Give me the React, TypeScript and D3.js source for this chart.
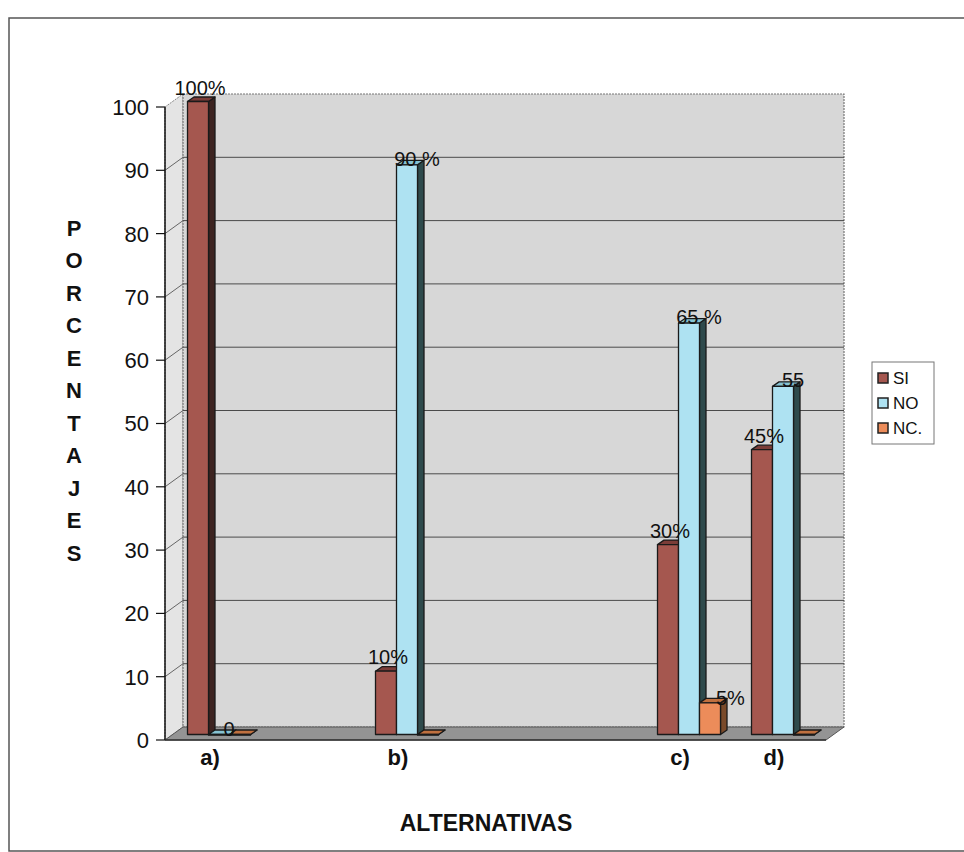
import React from "react";
import * as d3 from "d3";

const categories = ["a)", "b)", "c)", "d)"];
const slotOrder = ["a)", "gap1", "b)", "gap2", "gap3", "c)", "d)"];
const seriesNames = ["SI", "NO", "NC."];
const siValues = [100, 10, 30, 45];
const noValues = [0, 90, 65, 55];
const ncValues = [0, 0, 5, 0];
const siLabels = ["100%", "10%", "30%", "45%"];
const noLabels = ["0", "90 %", "65 %", "55"];
const ncLabels = ["", "", "5%", ""];
const yTicks = [0, 10, 20, 30, 40, 50, 60, 70, 80, 90, 100];
const yTitle = "PORCENTAJES";
const xTitle = "ALTERNATIVAS";

const W = 964;
const H = 852;
const FONT = "Arial, 'Liberation Sans', Helvetica, sans-serif";

const seriesStyle = [
  { front: "#a5574f", side: "#3d2421", top: "#7b3d38", anchor: "middle", ldx: 2, ldy: -7 },
  { front: "#aee2f2", side: "#2e4a4c", top: "#86c3d3", anchor: "middle", ldx: 10, ldy: 1 },
  { front: "#ec8c5a", side: "#7a4a2a", top: "#c0703f", anchor: "start", ldx: 6, ldy: 2 },
];

export default function App() {
  const y = d3.scaleLinear().domain([0, 100]).range([740, 107]);
  const x = d3.scaleBand().domain(slotOrder).range([163, 821]).paddingInner(0).paddingOuter(0);
  const depth = { dx: 18, dy: -13 };
  const frontLeft = 165;
  const frontRight = 826;
  const bw = 21;
  const barShift = { dx: 9, dy: -5.5 };
  const barDepth = { dx: 6.5, dy: -4.5 };
  const series = [siValues, noValues, ncValues];
  const labels = [siLabels, noLabels, ncLabels];

  const y0 = y(0);
  const y100 = y(100);
  const backWall = [
    [frontLeft + depth.dx, y100 + depth.dy],
    [frontRight + depth.dx, y100 + depth.dy],
    [frontRight + depth.dx, y0 + depth.dy],
    [frontLeft + depth.dx, y0 + depth.dy],
  ];
  const leftWall = [
    [frontLeft, y0],
    [frontLeft, y100],
    [frontLeft + depth.dx, y100 + depth.dy],
    [frontLeft + depth.dx, y0 + depth.dy],
  ];
  const floor = [
    [frontLeft, y0],
    [frontLeft + depth.dx, y0 + depth.dy],
    [frontRight + depth.dx, y0 + depth.dy],
    [frontRight, y0],
  ];
  const pts = (p: number[][]) => p.map((q) => q.join(",")).join(" ");

  const bars: any[] = [];
  const barLabels: any[] = [];
  categories.forEach((cat, ci) => {
    const fc = (x(cat) as number) + x.step() / 2;
    series.forEach((vals, si) => {
      const v = vals[ci];
      const st = seriesStyle[si];
      const left = fc + barShift.dx - 1.5 * bw + si * bw;
      const right = left + bw;
      const top = y(v) + barShift.dy;
      const base = y0 + barShift.dy;
      const ddx = barDepth.dx;
      const ddy = barDepth.dy;
      bars.push(
        <g key={`b-${ci}-${si}`} stroke="#1a1a1a" strokeWidth={1.3} strokeLinejoin="round">
          <polygon
            points={pts([
              [right, base],
              [right, top],
              [right + ddx, top + ddy],
              [right + ddx, base + ddy],
            ])}
            fill={st.side}
          />
          <polygon
            points={pts([
              [left, top],
              [left + ddx, top + ddy],
              [right + ddx, top + ddy],
              [right, top],
            ])}
            fill={st.top}
          />
          <rect x={left} y={top} width={bw} height={Math.max(base - top, 0.5)} fill={st.front} />
        </g>
      );
      const lab = labels[si][ci];
      if (lab) {
        barLabels.push(
          <text
            key={`l-${ci}-${si}`}
            x={left + bw / 2 + st.ldx}
            y={top + st.ldy}
            textAnchor={st.anchor as any}
            fontSize={20}
            fontFamily={FONT}
            fill="#111"
            style={{ whiteSpace: "pre" }}
          >
            {lab}
          </text>
        );
      }
    });
  });

  return (
    <svg
      width={W}
      height={H}
      viewBox={`0 0 ${W} ${H}`}
      style={{ position: "absolute", left: 0, top: 0, background: "#fff" }}
    >
      <rect x={9} y={18} width={1000} height={833} fill="#fff" stroke="#555" strokeWidth={1.5} />

      {/* walls */}
      <polygon points={pts(leftWall)} fill="#e4e4e4" stroke="#888" strokeWidth={1} strokeDasharray="2,1" />
      <polygon points={pts(backWall)} fill="#d7d7d7" stroke="#777" strokeWidth={1.2} strokeDasharray="2,1" />
      <polygon points={pts(floor)} fill="#949494" stroke="#555" strokeWidth={1} />

      {/* gridlines */}
      {yTicks
        .filter((t) => t > 0 && t < 100)
        .map((t) => (
          <g key={`g-${t}`} stroke="#4a4a4a" strokeWidth={1}>
            <line x1={frontLeft + depth.dx} x2={frontRight + depth.dx} y1={y(t) + depth.dy} y2={y(t) + depth.dy} />
            <line x1={frontLeft} x2={frontLeft + depth.dx} y1={y(t)} y2={y(t) + depth.dy} stroke="#666" />
          </g>
        ))}

      {/* bars */}
      {bars}

      {/* axes */}
      <line x1={frontLeft} x2={frontLeft} y1={y100} y2={y0} stroke="#111" strokeWidth={1.5} />
      <line x1={frontLeft} x2={frontRight} y1={y0} y2={y0} stroke="#333" strokeWidth={1.5} />
      {yTicks.map((t) => (
        <g key={`t-${t}`}>
          <line x1={frontLeft - 9} x2={frontLeft} y1={y(t)} y2={y(t)} stroke="#111" strokeWidth={1.2} />
          <text
            x={frontLeft - 16}
            y={y(t)}
            dy="0.36em"
            textAnchor="end"
            fontSize={22}
            fontFamily={FONT}
            fill="#111"
          >
            {t}
          </text>
        </g>
      ))}
      {categories.map((c) => (
        <text
          key={`c-${c}`}
          x={(x(c) as number) + x.step() / 2}
          y={y0 + 25}
          textAnchor="middle"
          fontSize={22}
          fontWeight="bold"
          fontFamily={FONT}
          fill="#111"
        >
          {c}
        </text>
      ))}

      {/* data labels */}
      {barLabels}

      {/* axis titles */}
      {yTitle.split("").map((ch, i) => (
        <text
          key={`yt-${i}`}
          x={74}
          y={228 + i * 32.5}
          dy="0.36em"
          textAnchor="middle"
          fontSize={22}
          fontWeight="bold"
          fontFamily={FONT}
          fill="#111"
        >
          {ch}
        </text>
      ))}
      <text x={486} y={831} textAnchor="middle" fontSize={23} fontWeight="bold" fontFamily={FONT} fill="#111">
        {xTitle}
      </text>

      {/* legend */}
      <g>
        <rect x={872} y={362} width={62} height={82} fill="#fff" stroke="#777" strokeWidth={1} />
        {seriesNames.map((n, i) => (
          <g key={`lg-${n}`}>
            <rect x={878} y={373 + i * 25} width={10} height={10} fill={seriesStyle[i].front} stroke="#222" strokeWidth={1.5} />
            <text x={893} y={378 + i * 25} dy="0.36em" fontSize={17} fontFamily={FONT} fill="#111">
              {n}
            </text>
          </g>
        ))}
      </g>
    </svg>
  );
}
